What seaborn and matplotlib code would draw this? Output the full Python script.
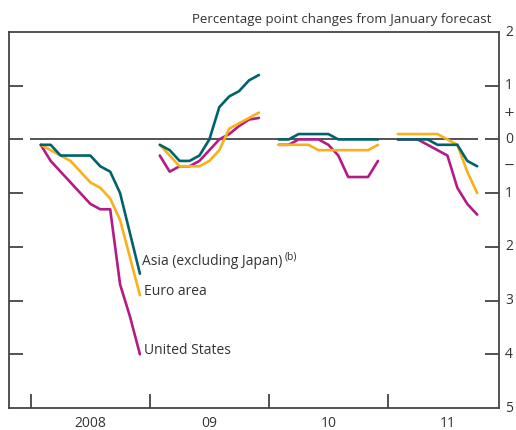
import numpy as np
import pandas as pd
import matplotlib
matplotlib.use("Agg")
import matplotlib.pyplot as plt
import seaborn as sns

# ---- data (percentage point changes from January forecast) ----
years = [2008, 2009, 2010, 2011]
year_labels = ["2008", "09", "10", "11"]

asia_2008 = [-0.1, -0.1, -0.3, -0.3, -0.3, -0.3, -0.5, -0.6, -1.0, -1.75, -2.5]
euro_2008 = [-0.1, -0.2, -0.3, -0.4, -0.6, -0.8, -0.9, -1.1, -1.5, -2.2, -2.9]
us_2008   = [-0.1, -0.4, -0.6, -0.8, -1.0, -1.2, -1.3, -1.3, -2.7, -3.3, -4.0]

asia_2009 = [-0.1, -0.2, -0.4, -0.4, -0.3, 0.0, 0.6, 0.8, 0.9, 1.1, 1.2]
euro_2009 = [-0.1, -0.3, -0.5, -0.5, -0.5, -0.4, -0.2, 0.2, 0.3, 0.4, 0.5]
us_2009   = [-0.3, -0.6, -0.5, -0.5, -0.4, -0.2, 0.0, 0.1, 0.25, 0.37, 0.4]

asia_2010 = [0.0, 0.0, 0.1, 0.1, 0.1, 0.1, 0.0, 0.0, 0.0, 0.0, 0.0]
euro_2010 = [-0.1, -0.1, -0.1, -0.1, -0.2, -0.2, -0.2, -0.2, -0.2, -0.2, -0.1]
us_2010   = [-0.1, -0.1, 0.0, 0.0, 0.0, -0.1, -0.3, -0.7, -0.7, -0.7, -0.4]

asia_2011 = [0.0, 0.0, 0.0, 0.0, -0.1, -0.1, -0.1, -0.4, -0.5]
euro_2011 = [0.1, 0.1, 0.1, 0.1, 0.1, 0.0, -0.1, -0.6, -1.0]
us_2011   = [0.0, 0.0, 0.0, -0.1, -0.2, -0.3, -0.9, -1.2, -1.4]

series_names = ["Asia", "Euro area", "United States"]
series_data = {
    "Asia": [asia_2008, asia_2009, asia_2010, asia_2011],
    "Euro area": [euro_2008, euro_2009, euro_2010, euro_2011],
    "United States": [us_2008, us_2009, us_2010, us_2011],
}
colors = {"Asia": "#00626b", "Euro area": "#f8b11a", "United States": "#b31b85"}

rows = []
for name in series_names:
    for yi, (yr, vals) in enumerate(zip(years, series_data[name])):
        for m, v in enumerate(vals):
            rows.append({"month": yi * 12 + 1 + m, "value": v,
                         "series": name, "seg": f"{name}-{yr}"})
df = pd.DataFrame(rows)

# ---- figure ----
sns.set_style("white")
plt.rcParams["font.family"] = ["Open Sans", "DejaVu Sans"]
text_col = "#333333"

fig = plt.figure(figsize=(5.16, 4.30), dpi=100)
ax = fig.add_axes([9 / 516, 22 / 430, 490 / 516, 376 / 430])

ax.hlines(0, -0.1, 45.1, color="#444444", lw=1.3, zorder=1)

sns.lineplot(data=df, x="month", y="value", hue="series", units="seg",
             estimator=None, palette=colors, hue_order=["United States", "Euro area", "Asia"],
             lw=1.9, legend=False, ax=ax, zorder=3, sort=False)

ax.set_xlim(-2.2, 47.2)
ax.set_ylim(-5, 2)

for s in ax.spines.values():
    s.set_color("#444444")
    s.set_linewidth(1.3)

ax.set_xticks([0, 12, 24, 36])
ax.set_xticklabels([])
ax.set_xticks([6, 18, 30, 42], minor=True)
ax.set_xticklabels(year_labels, minor=True, fontsize=10, color=text_col)
ax.tick_params(axis="x", which="major", direction="in", length=10, width=1.3,
               color="#444444", top=False, bottom=True)
ax.tick_params(axis="x", which="minor", length=0, pad=6)

yt = [-4, -3, -2, -1, 0, 1]
ax.set_yticks(yt)
ax.set_yticklabels([])
ax.tick_params(axis="y", direction="in", length=10, width=1.3, color="#444444",
               left=True, right=True, labelleft=False, labelright=False)
ax.set_xlabel("")
ax.set_ylabel("")

# right-hand labels
trans = ax.get_yaxis_transform()
for v, lab in [(2, "2"), (1, "1"), (0, "0"),
               (-1, "1"), (-2, "2"), (-3, "3"), (-4, "4"), (-5, "5")]:
    ax.text(1.012, v, lab, transform=trans, ha="left", va="center",
            fontsize=10, color=text_col, clip_on=False)
for v, lab in [(0.5, "+"), (-0.48, "\u2212")]:
    ax.text(1.009, v, lab, transform=trans, ha="left", va="center",
            fontsize=9.5, color=text_col, clip_on=False, family="DejaVu Sans")

ax.text(0.985, 1.015, "Percentage point changes from January forecast",
        transform=ax.transAxes, ha="right", va="bottom", fontsize=9.5,
        color=text_col)

# series labels
t = ax.text(11.25, -2.27, "Asia (excluding Japan)", fontsize=10, color=text_col,
            va="center", ha="left")
ax.annotate("(b)", xy=(1, 1), xycoords=t, xytext=(1, -2), textcoords="offset points",
            fontsize=7.5, color=text_col, va="center", ha="left")
ax.text(11.45, -2.83, "Euro area", fontsize=10, color=text_col, va="center", ha="left")
ax.text(11.45, -3.93, "United States", fontsize=10, color=text_col, va="center", ha="left")

fig.savefig("out.png", dpi=100)
